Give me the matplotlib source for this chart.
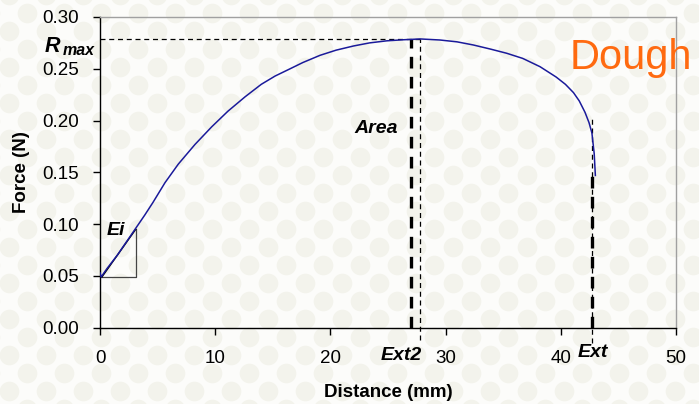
import numpy as np
import matplotlib
matplotlib.use("Agg")
import matplotlib.pyplot as plt

plt.rcParams['font.family'] = ['Liberation Sans', 'DejaVu Sans']

# ---- data ----
distance = [0.0, 0.1, 0.6, 1.5, 2.3, 3.04, 3.9, 4.6, 5.64, 6.8, 8.25, 9.7, 11.1,
            12.6, 14.0, 15.2, 16.5, 17.6, 19.1, 20.5, 22.0, 23.4, 24.9, 26.3,
            27.8, 29.5, 31.0, 32.4, 33.9, 35.3, 36.7, 38.2, 39.6, 40.4, 41.1,
            41.6, 42.1, 42.45, 42.7, 42.9, 43.0]
force = [0.053, 0.049, 0.057, 0.070, 0.083, 0.095, 0.109, 0.121, 0.140, 0.158,
         0.177, 0.194, 0.209, 0.223, 0.235, 0.243, 0.250, 0.256, 0.263, 0.268,
         0.272, 0.275, 0.277, 0.278, 0.2788, 0.2778, 0.276, 0.273, 0.269,
         0.265, 0.260, 0.252, 0.242, 0.235, 0.227, 0.219, 0.208, 0.198, 0.188,
         0.168, 0.147]

r_max = 0.2785
ext2 = 27.8
area_x = 27.0
ext = 42.75
ei_x = [0.15, 3.1]
ei_y = [0.0487, 0.095]

x_ticks = [0, 10, 20, 30, 40, 50]
y_ticks = [0.00, 0.05, 0.10, 0.15, 0.20, 0.25, 0.30]

W, H = 699, 404
fig = plt.figure(figsize=(W / 100, H / 100), dpi=100)
fig.patch.set_facecolor('#fcfcfa')

# decorative background pattern
bg = fig.add_axes([0, 0, 1, 1], zorder=-5)
bg.set_xlim(0, W)
bg.set_ylim(0, H)
bg.axis('off')
xs, ys = [], []
row = 0
for yy in np.arange(-5, H + 20, 18):
    off = 18.5 if row % 2 else 0
    for xx in np.arange(-10 + off, W + 30, 37):
        xs.append(xx)
        ys.append(yy)
    row += 1
bg.scatter(xs, ys, s=200, c='#f3f3ec', linewidths=0)

ax = fig.add_axes([100 / W, 1 - 327.7 / H, 576 / W, 310.7 / H])
ax.set_facecolor('none')
ax.set_xlim(0, 50)
ax.set_ylim(0, 0.30)

ax.plot(distance, force, color='#1a1a9a', lw=1.1, zorder=3)

# Rmax / Ext2 / Ext markers
ax.plot([0, ext2], [r_max, r_max], color='black', lw=0.9, ls=(0, (4, 3)))
ax.plot([ext2, ext2], [-0.012, r_max], color='black', lw=0.9, ls=(0, (4, 3)), clip_on=False)
ax.plot([area_x, area_x], [0, r_max], color='black', lw=2.4, ls=(0, (3.5, 2.5)))
ax.plot([ext, ext], [-0.015, 0.202], color='black', lw=0.9, ls=(0, (4, 3)), clip_on=False)
ax.plot([ext, ext], [0, 0.149], color='black', lw=2.4, ls=(0, (3.5, 2.5)))

# Ei triangle
ax.plot([ei_x[0], ei_x[1], ei_x[1]], [ei_y[0], ei_y[0], ei_y[1]], color='#444444', lw=0.9)
ax.plot(ei_x, ei_y, color='black', lw=1.0)

# texts
lab = dict(fontweight='bold', style='italic', color='black', fontsize=14)
ax.text(-4.85, 0.2665, 'R', ha='left', va='baseline', fontsize=15.5, fontweight='bold',
        style='italic', clip_on=False)
ax.text(-3.2, 0.2635, 'max', ha='left', va='baseline', fontsize=11.5, fontweight='bold',
        style='italic', clip_on=False)
ax.text(22.1, 0.1925, 'Area', ha='left', va='center', **lab)
ax.text(0.55, 0.0936, 'Ei', ha='left', va='center', **lab)
ax.text(24.4, -0.027, 'Ext2', ha='left', va='center', clip_on=False, **lab)
ax.text(41.5, -0.024, 'Ext', ha='left', va='center', clip_on=False, **lab)
ax.text(40.8, 0.2604, 'Dough', ha='left', va='center', color='#ff6a10', fontsize=30)

ax.set_xticks(x_ticks)
ax.set_yticks(y_ticks)
ax.set_yticklabels([f'{v:.2f}' for v in y_ticks])
ax.tick_params(axis='both', direction='out', length=5, width=1, labelsize=13.5, colors='black')
ax.tick_params(axis='x', pad=11)
ax.tick_params(axis='y', pad=10)

for s in ['left', 'bottom']:
    ax.spines[s].set_color('black')
    ax.spines[s].set_linewidth(1.0)
for s in ['top', 'right']:
    ax.spines[s].set_color('#a0a0a0')
    ax.spines[s].set_linewidth(1.0)

ax.set_xlabel('Distance (mm)', fontsize=13.5, fontweight='bold', labelpad=12)
ax.set_ylabel('Force (N)', fontsize=13.5, fontweight='bold', labelpad=9)

fig.savefig('out.png', dpi=100, facecolor=fig.get_facecolor())
